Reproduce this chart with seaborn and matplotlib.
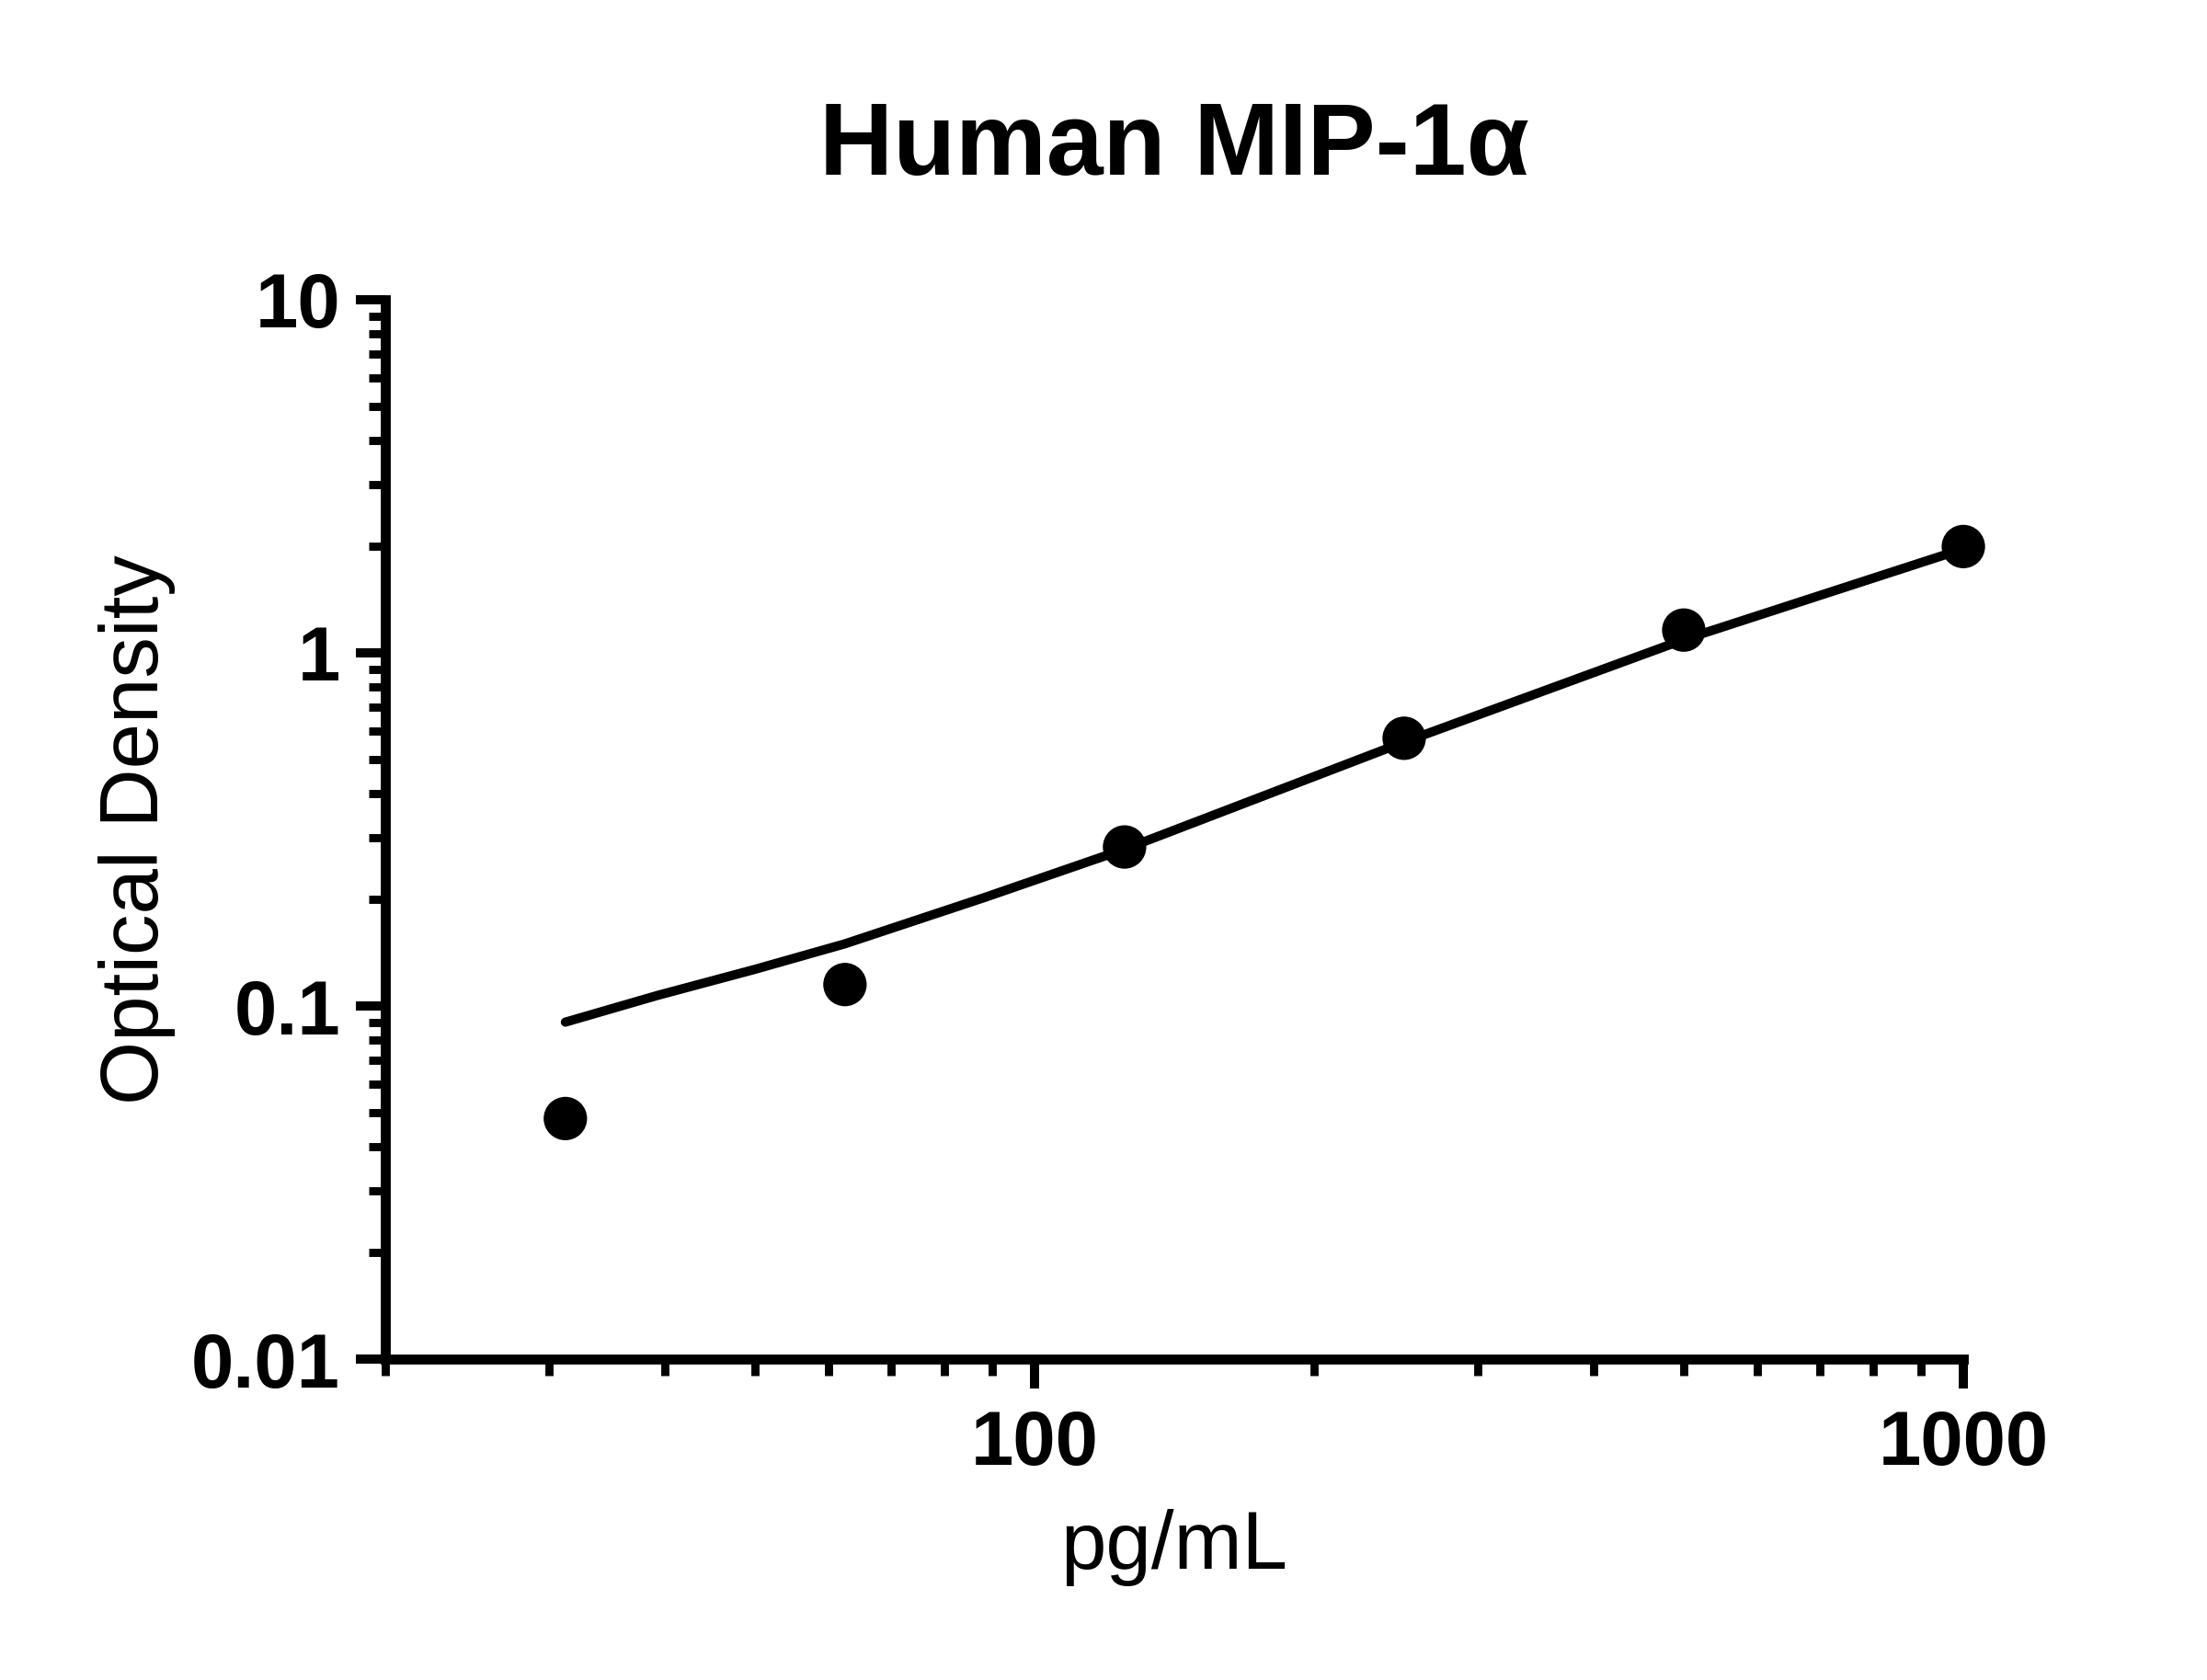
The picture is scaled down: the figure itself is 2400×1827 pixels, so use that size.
import matplotlib
matplotlib.use("Agg")
import matplotlib.pyplot as plt
import seaborn as sns
from matplotlib.ticker import NullFormatter

# standard curve points
conc = [31.25, 62.5, 125, 250, 500, 1000]
od = [0.048, 0.115, 0.282, 0.573, 1.16, 2.0]

# fitted curve
fit_conc = [31.25, 39.2, 50, 62.5, 88.4, 125, 250, 500, 1000]
fit_od = [0.090, 0.107, 0.127, 0.150, 0.203, 0.278, 0.559, 1.09, 1.97]

y_ticks = [0.01, 0.1, 1, 10]
y_labels = ["0.01", "0.1", "1", "10"]
x_ticks = [100, 1000]
x_labels = ["100", "1000"]

sns.set_style("ticks")
plt.rcParams["font.family"] = ["Liberation Sans", "DejaVu Sans"]
plt.rcParams["text.color"] = "black"
plt.rcParams["axes.labelcolor"] = "black"
plt.rcParams["xtick.color"] = "black"
plt.rcParams["ytick.color"] = "black"

fig = plt.figure(figsize=(12, 9.135), dpi=200)
ax = fig.add_axes([0.1746, 0.1910, 0.8896 - 0.1746, 0.8216 - 0.1910])

sns.lineplot(x=fit_conc, y=fit_od, ax=ax, color="black", linewidth=3.6,
             sort=False, estimator=None)
sns.scatterplot(x=conc, y=od, ax=ax, color="black", s=17 ** 2,
                edgecolor="none", zorder=3, clip_on=False)

ax.set_xscale("log")
ax.set_yscale("log")
ax.set_xlim(20, 1000)
ax.set_ylim(0.01, 10)
ax.set_xticks(x_ticks, labels=x_labels)
ax.set_yticks(y_ticks, labels=y_labels)
ax.xaxis.set_minor_formatter(NullFormatter())
ax.yaxis.set_minor_formatter(NullFormatter())

sns.despine(ax=ax)
for side in ["left", "bottom"]:
    ax.spines[side].set_linewidth(3.9)
    ax.spines[side].set_color("black")

ax.tick_params(which="major", length=11.6, width=3.6, color="black")
ax.tick_params(which="minor", length=6.6, width=3.2, color="black")
ax.tick_params(axis="x", which="major", pad=8)
ax.tick_params(axis="y", which="major", pad=6)
for lab in ax.get_xticklabels() + ax.get_yticklabels():
    lab.set_fontsize(30)
    lab.set_fontweight("bold")
    lab.set_color("black")

ax.set_xlabel("pg/mL", fontsize=32, labelpad=11, color="black")
ax.set_ylabel("Optical Density", fontsize=32, labelpad=6, color="black")
ax.set_title("Human MIP-1α", fontsize=40, fontweight="bold", pad=49,
             color="black")

fig.savefig("out.png", dpi=200)
